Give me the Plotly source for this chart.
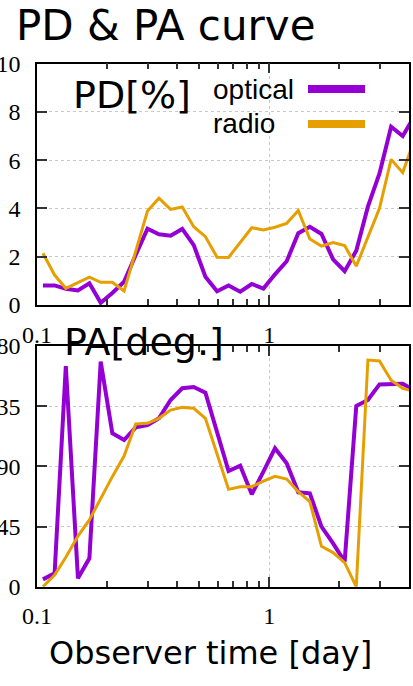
import plotly.graph_objects as go

# Observer time [day] (log-spaced samples)
t_days = [0.106, 0.119, 0.133, 0.150, 0.168, 0.188, 0.211, 0.237, 0.266, 0.299,
          0.335, 0.376, 0.422, 0.473, 0.531, 0.596, 0.668, 0.750, 0.841, 0.944,
          1.059, 1.189, 1.334, 1.496, 1.679, 1.884, 2.113, 2.371, 2.661, 2.985,
          3.350, 3.758, 4.217]

pd_optical = [0.81, 0.81, 0.67, 0.60, 0.90, 0.09, 0.50, 0.96, 2.07, 3.16,
              2.93, 2.87, 3.15, 2.48, 1.17, 0.57, 0.81, 0.55, 0.87, 0.68,
              1.27, 1.81, 2.97, 3.24, 2.94, 1.89, 1.40, 2.25, 4.07, 5.45,
              7.38, 7.00, 7.80]

pd_radio = [2.14, 1.24, 0.69, 0.92, 1.15, 0.94, 0.94, 0.58, 2.26, 3.89,
            4.42, 3.96, 4.06, 3.24, 2.83, 1.98, 1.97, 2.58, 3.20, 3.11,
            3.22, 3.38, 3.91, 2.73, 2.44, 2.59, 2.46, 1.61, 2.83, 4.00,
            6.03, 5.48, 6.85]

pa_optical = [5.5, 10.0, 165.0, 6.3, 21.2, 168.3, 114.7, 109.7, 119.2, 120.9,
              125.9, 139.6, 148.4, 149.3, 145.1, 116.0, 86.5, 90.5, 69.1, 86.0,
              103.5, 92.3, 70.6, 69.8, 44.9, 32.4, 18.7, 135.1, 139.6, 151.3,
              151.3, 151.8, 147.0]

pa_radio = [0.0, 8.7, 22.0, 37.9, 49.9, 66.1, 82.3, 97.7, 121.7, 122.2,
            125.9, 132.1, 134.1, 133.4, 125.9, 99.2, 72.8, 74.8, 74.8, 79.0,
            82.5, 80.5, 71.0, 63.6, 30.2, 25.5, 18.0, 0.0, 169.5, 168.8,
            154.4, 148.4, 146.0]

x_major = [0.1, 1]
x_major_text = ["0.1", "1"]
x_minor = [0.2, 0.3, 0.4, 0.5, 0.6, 0.7, 0.8, 0.9, 2, 3]
pd_ticks = [0, 2, 4, 6, 8, 10]
pa_ticks = [0, 45, 90, 135, 180]

series_names = ["optical", "radio"]
colors = ["#9400D3", "#E69F00"]

W, H = 413, 686


def px(x):
    return x / W


def py(y):
    return 1 - y / H


fig = go.Figure()

fig.add_trace(go.Scatter(x=t_days, y=pd_optical, mode="lines", name="optical",
                         line=dict(color=colors[0], width=4), xaxis="x", yaxis="y"))
fig.add_trace(go.Scatter(x=t_days, y=pd_radio, mode="lines", name="radio",
                         line=dict(color=colors[1], width=3), xaxis="x", yaxis="y"))
fig.add_trace(go.Scatter(x=t_days, y=pa_optical, mode="lines", name="optical",
                         line=dict(color=colors[0], width=4), xaxis="x2", yaxis="y2"))
fig.add_trace(go.Scatter(x=t_days, y=pa_radio, mode="lines", name="radio",
                         line=dict(color=colors[1], width=3), xaxis="x2", yaxis="y2"))

tickfont = dict(family="Liberation Serif", size=24, color="black")
xdom = [px(37), px(409)]


def xax(anchor):
    return dict(type="log", range=[-1.0003, 0.60206], domain=xdom, anchor=anchor,
                automargin=False,
                tickmode="array", tickvals=x_major, ticktext=x_major_text,
                ticks="inside", ticklen=10, tickwidth=1.5, tickcolor="#333",
                showline=True, linecolor="black", linewidth=1.5, mirror="allticks",
                showgrid=True, gridcolor="#c8c8c8", griddash="dot", gridwidth=1,
                zeroline=False, tickfont=tickfont, ticklabelstandoff=7,
                minor=dict(tickvals=x_minor, ticks="inside", ticklen=6,
                           tickwidth=1.5, tickcolor="#333", showgrid=False))


def yax(anchor, dom, rng, vals):
    return dict(range=rng, domain=dom, anchor=anchor, automargin=False,
                tickmode="array", tickvals=vals,
                ticks="inside", ticklen=10, tickwidth=1.5, tickcolor="#333",
                showline=True, linecolor="black", linewidth=1.5, mirror="allticks",
                showgrid=True, gridcolor="#c8c8c8", griddash="dot", gridwidth=1,
                zeroline=False, tickfont=tickfont, ticklabelstandoff=10)


fig.update_layout(
    width=W, height=H,
    margin=dict(l=0, r=0, t=0, b=0, pad=0, autoexpand=False),
    paper_bgcolor="white", plot_bgcolor="white",
    showlegend=False,
    xaxis=xax("y"),
    yaxis=yax("x", [py(305), py(63.5)], [0, 10], pd_ticks),
    xaxis2=xax("y2"),
    yaxis2=yax("x2", [py(586.7), py(346)], [0, 180], pa_ticks),
)

sans = "DejaVu Sans"
annots = [
    dict(text="PD & PA curve", x=px(14), y=py(25), size=42, fam=sans),
    dict(text="PD[%]", x=px(71), y=py(95), size=38, fam=sans),
    dict(text="PA[deg.]", x=px(62), y=py(342), size=38, fam=sans),
    dict(text=series_names[0], x=px(211), y=py(90), size=28, fam="Liberation Sans"),
    dict(text=series_names[1], x=px(211), y=py(123), size=28, fam="Liberation Sans"),
]
for a in annots:
    fig.add_annotation(text=a["text"], x=a["x"], y=a["y"], xref="paper", yref="paper",
                       xanchor="left", yanchor="middle", showarrow=False,
                       font=dict(family=a["fam"], size=a["size"], color="black"))

fig.add_annotation(text="Observer time [day]", x=px(210), y=py(653),
                   xref="paper", yref="paper", xanchor="center", yanchor="middle",
                   showarrow=False, font=dict(family=sans, size=32, color="black"))

for i, yy in enumerate([89, 124]):
    fig.add_shape(type="line", xref="paper", yref="paper",
                  x0=px(308), x1=px(365), y0=py(yy), y1=py(yy),
                  line=dict(color=colors[i], width=8))

fig.write_html("out.html",
               config={"displayModeBar": False},
               post_script="document.body.style.margin='0px';"
                           "document.body.style.overflow='hidden';")
